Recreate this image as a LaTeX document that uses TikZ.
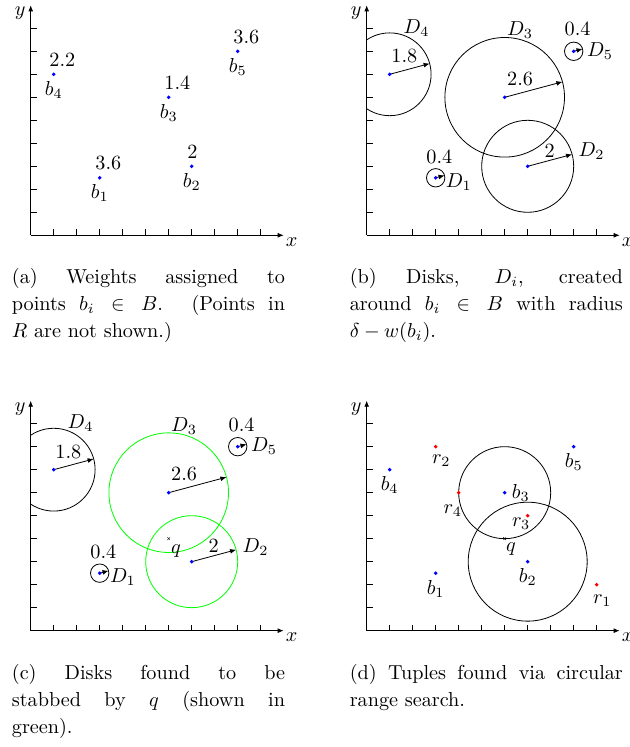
\documentclass[tikz,border=0pt]{standalone}
\usetikzlibrary{arrows.meta}
\begin{document}
\begin{tikzpicture}[x=0.4cm,y=0.4cm,>={Latex[length=3pt,width=2.4pt]},
  wt/.style={anchor=base west,inner sep=0pt,xshift=-2.3pt,yshift=4pt},
  lab/.style={anchor=base west,inner sep=0pt},
  captext/.style={anchor=north west,inner sep=0pt,text width=4.75cm,align=justify,font={\fontsize{10}{13.3}\selectfont}}]
\useasboundingbox (0,0) rectangle (27.348,-32.478);

% (a) weights
\begin{scope}[shift={(1.335,-10.23)}]
\draw[->] (0,0) -- (11,0);
\draw[->] (0,0) -- (0,10);
\foreach \i in {1,...,10} \draw (\i,0) -- (\i,0.26);
\foreach \i in {1,...,9} \draw (0,\i) -- (0.26,\i);
\node (Xa) at (11.35,-0.28) {$x$};
\node (Ya) at (-0.46,9.65) {$y$};

\coordinate (b1) at (3,2.5);
\coordinate (b2) at (7,3);
\coordinate (b3) at (6,6);
\coordinate (b4) at (1,7);
\coordinate (b5) at (9,8);
\fill[blue] (b1) circle (0.085);
\fill[blue] (b2) circle (0.085);
\fill[blue] (b3) circle (0.085);
\fill[blue] (b4) circle (0.085);
\fill[blue] (b5) circle (0.085);
\node[below] (La1) at (b1) {$b_1$};
\node[below] (La2) at (b2) {$b_2$};
\node[below] (La3) at (b3) {$b_3$};
\node[below] (La4) at (b4) {$b_4$};
\node[below] (La5) at (b5) {$b_5$};
\node[wt] (Wa1) at (b1) {3.6};
\node[wt] (Wa2) at (b2) {2};
\node[wt] (Wa3) at (b3) {1.4};
\node[wt] (Wa4) at (b4) {2.2};
\node[wt] (Wa5) at (b5) {3.6};
\end{scope}

% (b) disks
\begin{scope}[shift={(15.943,-10.23)}]
\draw[->] (0,0) -- (11,0);
\draw[->] (0,0) -- (0,10);
\foreach \i in {1,...,10} \draw (\i,0) -- (\i,0.26);
\foreach \i in {1,...,9} \draw (0,\i) -- (0.26,\i);
\node (Xb) at (11.35,-0.28) {$x$};
\node (Yb) at (-0.46,9.65) {$y$};

\coordinate (b1) at (3,2.5);
\coordinate (b2) at (7,3);
\coordinate (b3) at (6,6);
\coordinate (b4) at (1,7);
\coordinate (b5) at (9,8);
\begin{scope}
\clip (0,0) rectangle (11,10);
\draw (b4) circle (1.8);
\end{scope}
\draw (b1) circle (0.4);
\draw (b2) circle (2);
\draw (b3) circle (2.6);
\draw (b5) circle (0.4);
\draw[->] (b1) -- ++(15:0.4);
\draw[->] (b2) -- ++(15:2);
\draw[->] (b3) -- ++(15:2.6);
\draw[->] (b4) -- ++(15:1.8);
\draw[->] (b5) -- ++(15:0.4);
\fill[blue] (b1) circle (0.085);
\fill[blue] (b2) circle (0.085);
\fill[blue] (b3) circle (0.085);
\fill[blue] (b4) circle (0.085);
\fill[blue] (b5) circle (0.085);
\node[lab] (Db1) at (3.43,2.09) {$D_1$};
\node[lab] (Db2) at (9.2,3.42) {$D_2$};
\node[lab] (Db3) at (6.09,8.67) {$D_3$};
\node[lab] (Db4) at (1.59,8.78) {$D_4$};
\node[lab] (Db5) at (9.57,7.77) {$D_5$};
\node[lab] (Rb1) at (2.58,3.13) {0.4};
\node[lab] (Rb2) at (7.72,3.4) {2};
\node[lab] (Rb3) at (6.09,6.53) {2.6};
\node[lab] (Rb4) at (1.06,7.5) {1.8};
\node[lab] (Rb5) at (8.59,8.67) {0.4};
\end{scope}

% (c) stabbed disks
\begin{scope}[shift={(1.335,-27.42)}]
\draw[->] (0,0) -- (11,0);
\draw[->] (0,0) -- (0,10);
\foreach \i in {1,...,10} \draw (\i,0) -- (\i,0.26);
\foreach \i in {1,...,9} \draw (0,\i) -- (0.26,\i);
\node (Xc) at (11.35,-0.28) {$x$};
\node (Yc) at (-0.46,9.65) {$y$};

\coordinate (b1) at (3,2.5);
\coordinate (b2) at (7,3);
\coordinate (b3) at (6,6);
\coordinate (b4) at (1,7);
\coordinate (b5) at (9,8);
\coordinate (q) at (6,4);
\begin{scope}
\clip (0,0) rectangle (11,10);
\draw (b4) circle (1.8);
\end{scope}
\draw (b1) circle (0.4);
\draw[green] (b2) circle (2);
\draw[green] (b3) circle (2.6);
\draw (b5) circle (0.4);
\draw[->] (b1) -- ++(15:0.4);
\draw[->] (b2) -- ++(15:2);
\draw[->] (b3) -- ++(15:2.6);
\draw[->] (b4) -- ++(15:1.8);
\draw[->] (b5) -- ++(15:0.4);
\fill[blue] (b1) circle (0.085);
\fill[blue] (b2) circle (0.085);
\fill[blue] (b3) circle (0.085);
\fill[blue] (b4) circle (0.085);
\fill[blue] (b5) circle (0.085);
\draw[very thin] (q) +(-0.06,-0.06) -- +(0.06,0.06) (q) +(-0.06,0.06) -- +(0.06,-0.06);
\node[lab] (Qc) at (6.09,3.36) {$q$};
\node[lab] (Dc1) at (3.43,2.09) {$D_1$};
\node[lab] (Dc2) at (9.2,3.42) {$D_2$};
\node[lab] (Dc3) at (6.09,8.67) {$D_3$};
\node[lab] (Dc4) at (1.59,8.78) {$D_4$};
\node[lab] (Dc5) at (9.57,7.77) {$D_5$};
\node[lab] (Rc1) at (2.58,3.13) {0.4};
\node[lab] (Rc2) at (7.72,3.4) {2};
\node[lab] (Rc3) at (6.09,6.53) {2.6};
\node[lab] (Rc4) at (1.06,7.5) {1.8};
\node[lab] (Rc5) at (8.59,8.67) {0.4};
\end{scope}

% (d) range search
\begin{scope}[shift={(15.943,-27.42)}]
\draw[->] (0,0) -- (11,0);
\draw[->] (0,0) -- (0,10);
\foreach \i in {1,...,10} \draw (\i,0) -- (\i,0.26);
\foreach \i in {1,...,9} \draw (0,\i) -- (0.26,\i);
\node (Xd) at (11.35,-0.28) {$x$};
\node (Yd) at (-0.46,9.65) {$y$};

\coordinate (b1) at (3,2.5);
\coordinate (b2) at (7,3);
\coordinate (b3) at (6,6);
\coordinate (b4) at (1,7);
\coordinate (b5) at (9,8);
\coordinate (r1) at (10,2);
\coordinate (r2) at (3,8);
\coordinate (r3) at (7,5);
\coordinate (r4) at (4,6);
\coordinate (q) at (6,4);
\draw (b3) circle (2);
\draw (b2) circle (2.586);
\fill[blue] (b1) circle (0.085);
\fill[blue] (b2) circle (0.085);
\fill[blue] (b3) circle (0.085);
\fill[blue] (b4) circle (0.085);
\fill[blue] (b5) circle (0.085);
\fill[red] (r1) circle (0.085);
\fill[red] (r2) circle (0.085);
\fill[red] (r3) circle (0.085);
\fill[red] (r4) circle (0.085);
\draw[very thin] (q) +(-0.06,-0.06) -- +(0.06,0.06) (q) +(-0.06,0.06) -- +(0.06,-0.06);
\node[below] (Ld1) at (b1) {$b_1$};
\node[below] (Ld2) at (b2) {$b_2$};
\node[right] (Ld3) at (b3) {$b_3$};
\node[below] (Ld4) at (b4) {$b_4$};
\node[below] (Ld5) at (b5) {$b_5$};
\node[lab] (Sd1) at (9.83,1.19) {$r_1$};
\node[lab] (Sd2) at (2.83,7.25) {$r_2$};
\node[lab] (Sd3) at (6.3,4.52) {$r_3$};
\node[lab] (Sd4) at (3.33,5.1) {$r_4$};
\node[lab] (Qd) at (6.04,3.43) {$q$};
\end{scope}

% captions
\node[captext] (Ca) at (0.5,-11.64) {(a) Weights assigned to\linebreak points $b_i\in B$. (Points in\linebreak $R$ are not shown.)};
\node[captext] (Cb) at (15.19,-11.64) {(b) Disks, $D_i$, created\linebreak around $b_i\in B$ with radius\linebreak $\delta-w(b_i)$.};
\node[captext] (Cc) at (0.5,-28.87) {(c) Disks found to be\linebreak stabbed by $q$ (shown in\linebreak green).};
\node[captext] (Cd) at (15.19,-28.87) {(d) Tuples found via circular\linebreak range search.};
\end{tikzpicture}
\end{document}
